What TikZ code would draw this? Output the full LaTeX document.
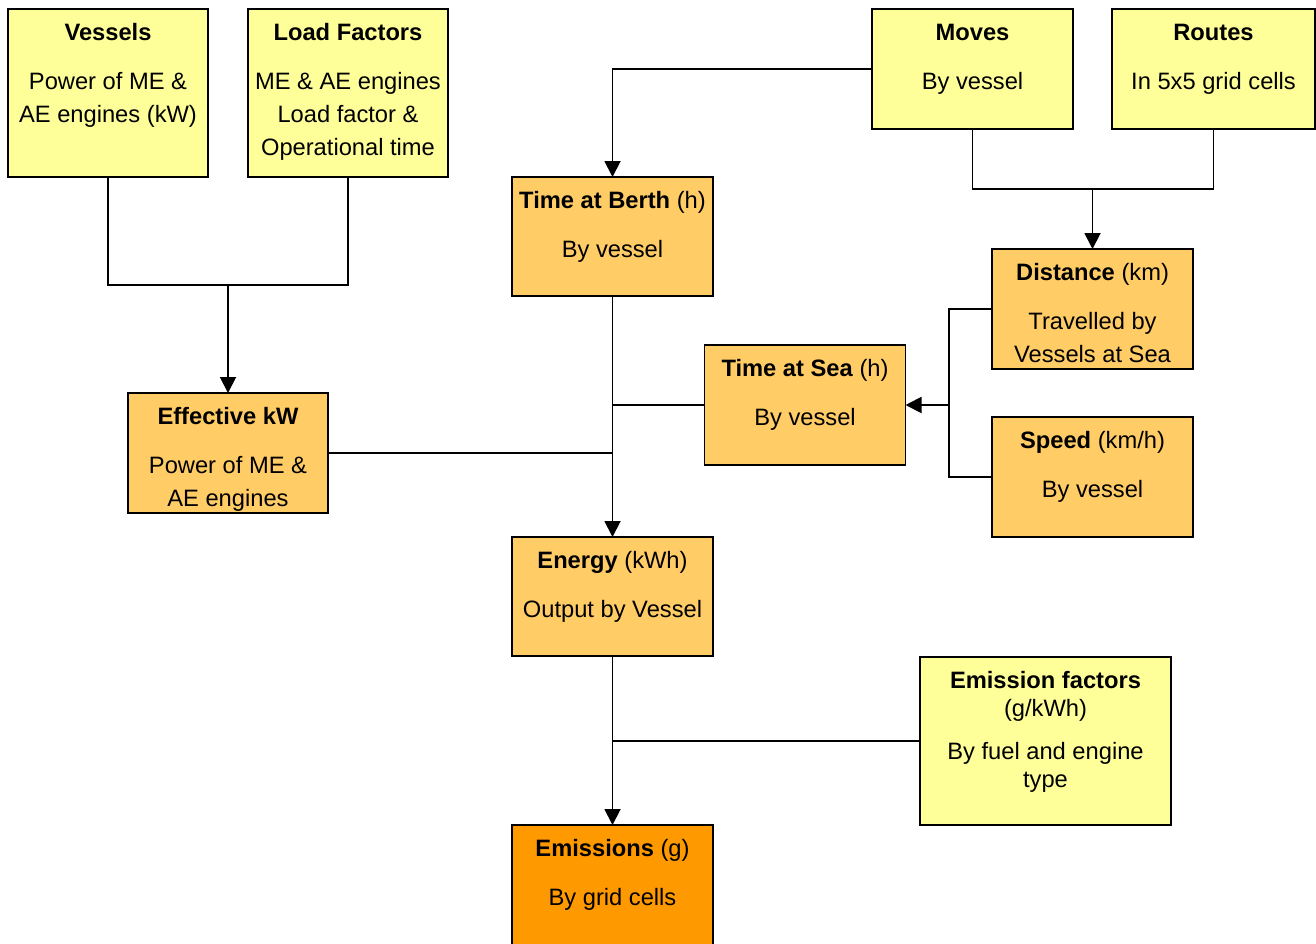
\documentclass[tikz,border=0pt]{standalone}
\usepackage{fontspec}
\setmainfont{Liberation Sans}
\usetikzlibrary{arrows.meta}
\definecolor{yel}{HTML}{FFFF99}
\definecolor{lor}{HTML}{FFCC66}
\definecolor{dor}{HTML}{FF9900}
\tikzset{
  box/.style={draw=black, line width=1.9pt, inner sep=0pt, outer sep=0pt, rectangle},
  ybox/.style={box, fill=yel},
  obox/.style={box, fill=lor},
  dbox/.style={box, fill=dor},
  txt/.style={anchor=north, align=center, inner sep=0pt, font=\fontsize{23.7}{33}\selectfont},
  txtc/.style={anchor=north, align=center, inner sep=0pt, font=\fontsize{23.7}{28}\selectfont},
  conn/.style={line width=1.9pt, draw=black},
  arr/.style={conn, -{Triangle[length=16pt,width=16pt]}}
}
\newcommand{\st}{\rule{0pt}{20pt}}
\begin{document}
\begin{tikzpicture}[x=1pt,y=-1pt]
\useasboundingbox (0,0) rectangle (1316,943);
% boxes
\node[ybox, minimum width=200, minimum height=168] (vessels) at (108,93) {};
\node[ybox, minimum width=200, minimum height=168] (loadf) at (348,93) {};
\node[ybox, minimum width=201, minimum height=120] (moves) at (972.5,69) {};
\node[ybox, minimum width=203, minimum height=120] (routes) at (1213.5,69) {};
\node[obox, minimum width=201, minimum height=119] (berth) at (612.5,236.5) {};
\node[obox, minimum width=201, minimum height=120] (dist) at (1092.5,309) {};
\node[obox, minimum width=201, minimum height=120] (sea) at (805,405) {};
\node[obox, minimum width=201, minimum height=120] (speed) at (1092.5,477) {};
\node[obox, minimum width=200, minimum height=120] (effkw) at (228,453) {};
\node[obox, minimum width=201, minimum height=119] (energy) at (612.5,596.5) {};
\node[ybox, minimum width=251, minimum height=168] (ef) at (1045.5,741) {};
\node[dbox, minimum width=201, minimum height=128] (emis) at (612.5,889) {};
% texts
\node[txt] (vesselsT) at ([yshift=-11.5pt]vessels.north) {\st\textbf{Vessels}\\[16pt]Power of ME \&\\AE engines (kW)};
\node[txt] (loadfT) at ([yshift=-11.5pt]loadf.north) {\st\textbf{Load Factors}\\[16pt]ME \& AE engines\\Load factor \&\\Operational time};
\node[txt] (movesT) at ([yshift=-11.5pt]moves.north) {\st\textbf{Moves}\\[16pt]By vessel};
\node[txt] (routesT) at ([yshift=-11.5pt]routes.north) {\st\textbf{Routes}\\[16pt]In 5x5 grid cells};
\node[txt] (berthT) at ([yshift=-11.5pt]berth.north) {\st\textbf{Time at Berth} (h)\\[16pt]By vessel};
\node[txt] (distT) at ([yshift=-11.5pt]dist.north) {\st\textbf{Distance} (km)\\[16pt]Travelled by\\Vessels at Sea};
\node[txt] (seaT) at ([yshift=-11.5pt]sea.north) {\st\textbf{Time at Sea} (h)\\[16pt]By vessel};
\node[txt] (speedT) at ([yshift=-11.5pt]speed.north) {\st\textbf{Speed} (km/h)\\[16pt]By vessel};
\node[txt] (effkwT) at ([yshift=-11.5pt]effkw.north) {\st\textbf{Effective kW}\\[16pt]Power of ME \&\\AE engines};
\node[txt] (energyT) at ([yshift=-11.5pt]energy.north) {\st\textbf{Energy} (kWh)\\[16pt]Output by Vessel};
\node[txtc] (efT) at ([yshift=-11.5pt]ef.north) {\st\textbf{Emission factors}\\(g/kWh)\\[15pt]By fuel and engine\\type};
\node[txt] (emisT) at ([yshift=-11.5pt]emis.north) {\st\textbf{Emissions} (g)\\[16pt]By grid cells};
% junctions
\coordinate (j1) at (228,285);
\coordinate (j2) at (1092.5,189);
\coordinate (j3) at (949,405);
% connectors
\draw[conn] (vessels.south) |- (j1) -| (loadf.south);
\draw[arr] (j1) -- (effkw.north);
\draw[arr] (moves.west) -| (berth.north);
\draw[conn] (moves.south) |- (j2) -| (routes.south);
\draw[arr] (j2) -- (dist.north);
\draw[conn] (dist.west) -| (j3) |- (speed.west);
\draw[arr] (j3) -- (sea.east);
\draw[arr] (berth.south) -- (energy.north);
\draw[conn] (sea.west) -- (sea.west -| berth.south);
\draw[conn] (effkw.east) -- (effkw.east -| berth.south);
\draw[arr] (energy.south) -- (emis.north);
\draw[conn] (ef.west) -- (ef.west -| energy.south);
\end{tikzpicture}
\end{document}
